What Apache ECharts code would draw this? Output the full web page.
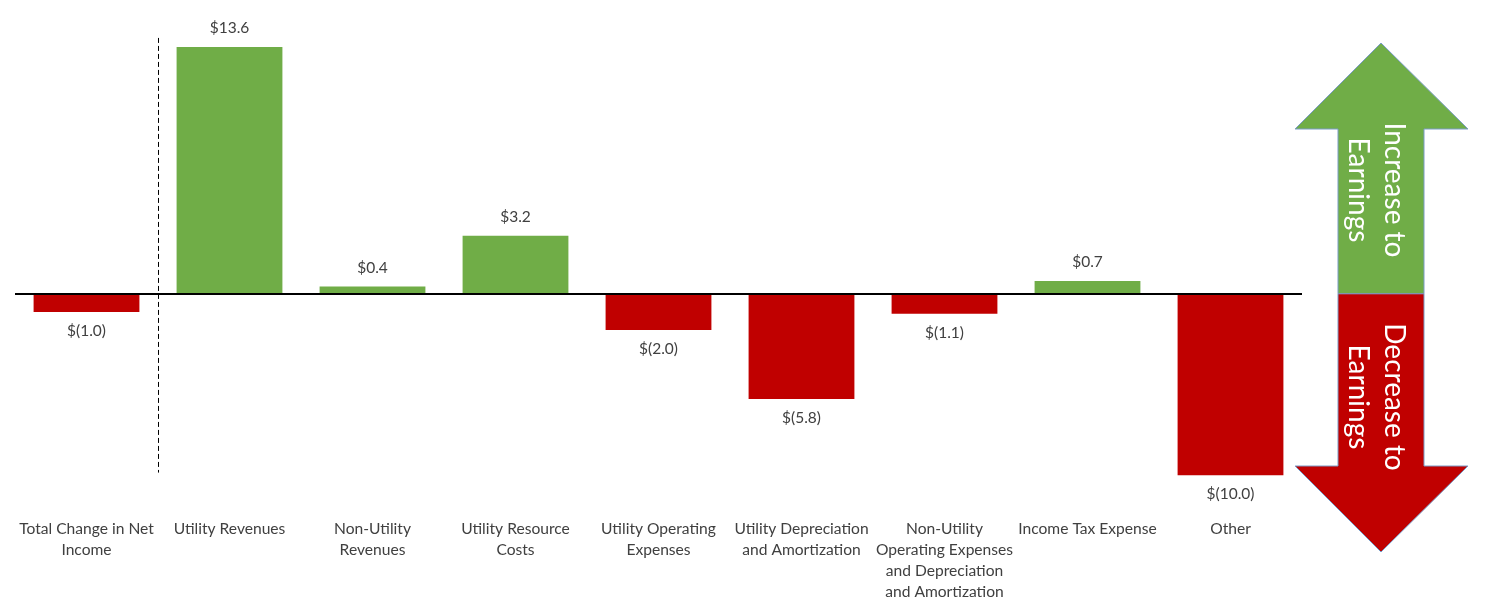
<!DOCTYPE html>
<html><head><meta charset="utf-8">
<script src="https://cdn.jsdelivr.net/npm/echarts@6/dist/echarts.min.js"></script>
<style>html,body{margin:0;padding:0;background:#fff}#c{width:1485px;height:612px}</style>
</head><body><div id="c"></div>
<script>
const categories = [
  "Total Change in Net\nIncome",
  "Utility Revenues",
  "Non-Utility\nRevenues",
  "Utility Resource\nCosts",
  "Utility Operating\nExpenses",
  "Utility Depreciation\nand Amortization",
  "Non-Utility\nOperating Expenses\nand Depreciation\nand Amortization",
  "Income Tax Expense",
  "Other"
];
const values = [-1.0, 13.6, 0.4, 3.2, -2.0, -5.8, -1.1, 0.7, -10.0];
const arrowUpText = "Increase to\nEarnings";
const arrowDownText = "Decrease to\nEarnings";

const GREEN = '#70AD47', RED = '#C00000', TXT = '#404040';
const FONT = 'Lato, "Open Sans", sans-serif';

function fmt(v){ return v >= 0 ? '$' + v.toFixed(1) : '$(' + (-v).toFixed(1) + ')'; }

const chart = echarts.init(document.getElementById('c'));
chart.setOption({
  animation: false,
  grid: { left: 15, width: 1287, top: 21.6, height: 490 },
  xAxis: {
    type: 'category', data: categories,
    axisLine: { show: false, onZero: false }, axisTick: { show: false },
    axisLabel: { color: TXT, fontFamily: FONT, fontSize: 15.6, lineHeight: 21, margin: 7, interval: 0, verticalAlign: 'top' }
  },
  yAxis: { type: 'value', min: -12, max: 15, show: false, splitLine: { show: false } },
  series: [{
    type: 'bar', barCategoryGap: '26%',
    data: values.map(v => ({
      value: v,
      itemStyle: { color: v >= 0 ? GREEN : RED },
      label: { show: true, position: v >= 0 ? 'top' : 'bottom', distance: 11,
               formatter: fmt(v), color: TXT, fontFamily: FONT, fontSize: 15.5 }
    })),
    markLine: {
      silent: true, symbol: 'none', label: { show: false },
      lineStyle: { color: '#000', width: 2, type: 'solid' },
      data: [{ yAxis: 0 }]
    }
  }]
});

const x0 = chart.convertToPixel({ xAxisIndex: 0 }, 0);
const x1 = chart.convertToPixel({ xAxisIndex: 0 }, 1);
const sepX = Math.round((x0 + x1) / 2) + 0.5;
const yTop = chart.convertToPixel({ yAxisIndex: 0 }, 14.1);
const yBot = chart.convertToPixel({ yAxisIndex: 0 }, -9.85);
const yZero = chart.convertToPixel({ yAxisIndex: 0 }, 0);

const cx = 1381, headL = 1295, headR = 1468, shaftL = 1338, shaftR = 1424;
const tipTop = 43, headBaseTop = 129, headBaseBot = 466, tipBot = 552;
const outline = '#7a9cc6';

chart.setOption({
  graphic: [
    { type: 'line', shape: { x1: sepX, y1: yTop, x2: sepX, y2: yBot },
      style: { stroke: '#000', lineWidth: 1, lineDash: [5, 3] } },
    { type: 'polygon', shape: { points: [[cx, tipTop],[headR, headBaseTop],[shaftR, headBaseTop],[shaftR, yZero],[shaftL, yZero],[shaftL, headBaseTop],[headL, headBaseTop]] },
      style: { fill: GREEN, stroke: outline, lineWidth: 1 } },
    { type: 'polygon', shape: { points: [[shaftL, yZero],[shaftR, yZero],[shaftR, headBaseBot],[headR, headBaseBot],[cx, tipBot],[headL, headBaseBot],[shaftL, headBaseBot]] },
      style: { fill: RED, stroke: outline, lineWidth: 1 } },
    { type: 'text', x: 1376, y: 190, rotation: -Math.PI / 2,
      style: { text: arrowUpText, fill: '#fff', font: '28px ' + FONT, align: 'center', verticalAlign: 'middle', lineHeight: 36 } },
    { type: 'text', x: 1376, y: 397, rotation: -Math.PI / 2,
      style: { text: arrowDownText, fill: '#fff', font: '28px ' + FONT, align: 'center', verticalAlign: 'middle', lineHeight: 36 } }
  ]
});
</script></body></html>
